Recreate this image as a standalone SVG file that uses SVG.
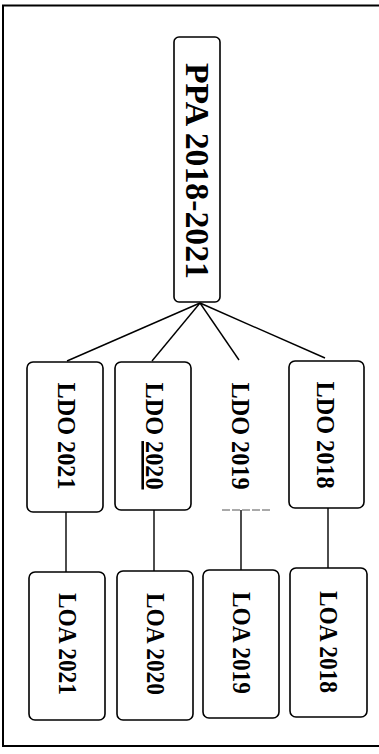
<svg xmlns="http://www.w3.org/2000/svg" width="379" height="754" viewBox="0 0 379 754">
<style>
.box{fill:#fff;stroke:#000;stroke-width:1.6}
.t{font-family:"Liberation Serif","Times New Roman",serif;font-weight:bold;fill:#000;text-anchor:middle}
.big{font-size:34px}
.sm{font-size:26px}
.ln{stroke:#000;stroke-width:1.4;fill:none}
</style>
<rect width="379" height="754" fill="#fff"/>
<path d="M385,5.5 H3 V746 H385" fill="none" stroke="#000" stroke-width="2"/>
<g id="connectors">
<line class="ln" x1="200" y1="303" x2="67" y2="361"/>
<line class="ln" x1="200" y1="303" x2="152" y2="361"/>
<line class="ln" x1="200" y1="303" x2="239" y2="360"/>
<line class="ln" x1="200" y1="303" x2="325" y2="358"/>
<line class="ln" x1="66" y1="512" x2="66" y2="572"/>
<line class="ln" x1="154" y1="510" x2="154" y2="571"/>
<line class="ln" x1="241" y1="510" x2="241" y2="570"/>
<line class="ln" x1="328" y1="508" x2="328" y2="568"/>
</g>
<g id="ppa">
<rect class="box" x="174" y="37" width="46" height="265" rx="5"/>
<text class="t big" transform="translate(197,171) rotate(90)" y="11" textLength="216" lengthAdjust="spacingAndGlyphs">PPA 2018-2021</text>
</g>
<g id="ldo2021">
<rect class="box" x="27" y="362" width="76" height="150" rx="6"/>
<text class="t sm" transform="translate(67,436) rotate(90)" y="9" textLength="107" lengthAdjust="spacingAndGlyphs">LDO 2021</text>
</g>
<g id="ldo2020">
<rect class="box" x="115" y="362" width="76" height="148" rx="6"/>
<text class="t sm" transform="translate(155,436) rotate(90)" y="9" textLength="107" lengthAdjust="spacingAndGlyphs">LDO <tspan text-decoration="underline">2020</tspan></text>
</g>
<g id="ldo2019">
<line x1="222" y1="510" x2="270" y2="510" stroke="#555" stroke-width="1" stroke-dasharray="8,2"/>
<text class="t sm" transform="translate(241,436) rotate(90)" y="9" textLength="107" lengthAdjust="spacingAndGlyphs">LDO 2019</text>
</g>
<g id="ldo2018">
<rect class="box" x="289" y="361" width="75" height="147" rx="6"/>
<text class="t sm" transform="translate(326,435) rotate(90)" y="9" textLength="107" lengthAdjust="spacingAndGlyphs">LDO 2018</text>
</g>
<g id="loa2021">
<rect class="box" x="29" y="572" width="76" height="148" rx="6"/>
<text class="t sm" transform="translate(68,644) rotate(90)" y="9" textLength="102" lengthAdjust="spacingAndGlyphs">LOA 2021</text>
</g>
<g id="loa2020">
<rect class="box" x="117" y="571" width="76" height="149" rx="6"/>
<text class="t sm" transform="translate(156,644) rotate(90)" y="9" textLength="102" lengthAdjust="spacingAndGlyphs">LOA 2020</text>
</g>
<g id="loa2019">
<rect class="box" x="203" y="570" width="76" height="148" rx="6"/>
<text class="t sm" transform="translate(242,643) rotate(90)" y="9" textLength="102" lengthAdjust="spacingAndGlyphs">LOA 2019</text>
</g>
<g id="loa2018">
<rect class="box" x="290" y="568" width="77" height="149" rx="6"/>
<text class="t sm" transform="translate(329,642) rotate(90)" y="9" textLength="102" lengthAdjust="spacingAndGlyphs">LOA 2018</text>
</g>
</svg>
